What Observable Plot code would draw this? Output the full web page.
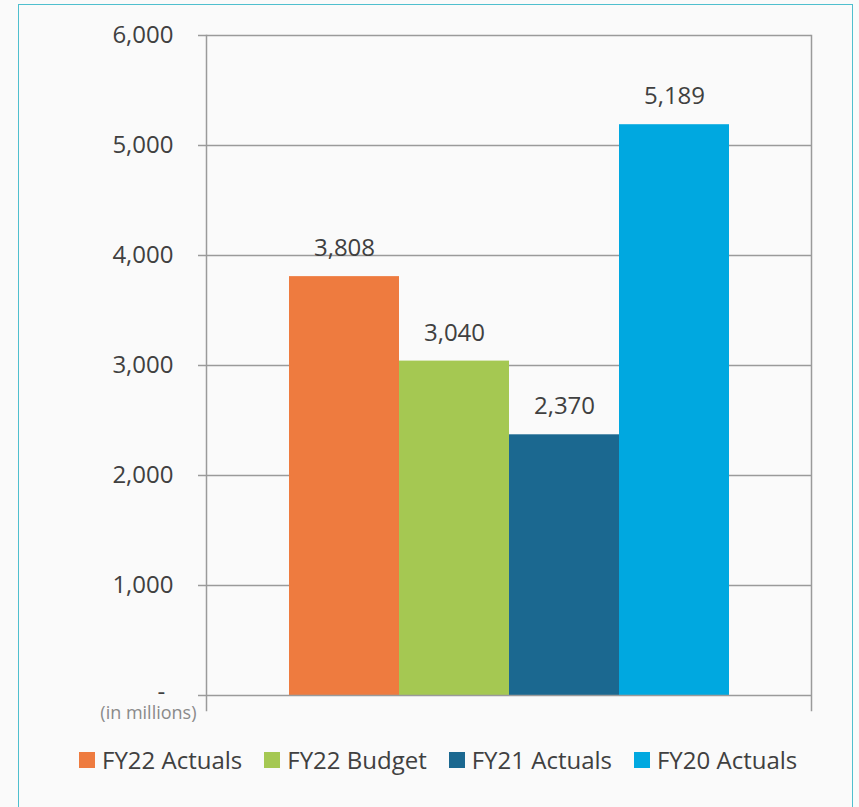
<!DOCTYPE html>
<html>
<head>
<meta charset="utf-8">
<script src="https://cdn.jsdelivr.net/npm/d3@7"></script>
<script src="https://cdn.jsdelivr.net/npm/@observablehq/plot@0.6"></script>
<style>
  html, body { margin: 0; padding: 0; background: #fafafa; width: 859px; height: 807px; overflow: hidden; }
  #border { position: absolute; left: 18px; top: 4px; width: 835px; height: 820px; border: 1.5px solid #4fbfce; box-sizing: border-box; pointer-events: none; }
  #chart { position: absolute; left: 0; top: 0; }
  #legend { position: absolute; left: 79px; top: 743px; display: flex; align-items: center; gap: 22px;
            font-family: "Open Sans", sans-serif; font-size: 24px; color: #404040; white-space: nowrap; }
  .item { display: flex; align-items: center; gap: 7px; }
  .sw { width: 16px; height: 16px; display: inline-block; }
</style>
</head>
<body>
<div id="chart"></div>
<div id="legend"></div>
<div id="border"></div>
<script>
const series = ["FY22 Actuals", "FY22 Budget", "FY21 Actuals", "FY20 Actuals"];
const values = [3808, 3040, 2370, 5189];
const colors = ["#ee7b3f", "#a5c852", "#1b6890", "#00a8e0"];
const yTicks = [1000, 2000, 3000, 4000, 5000, 6000];
const yDomain = [0, 6000];
const unitNote = "(in millions)";
const zeroLabel = "-";

const data = series.map((s, i) => ({name: s, value: values[i]}));
const fmt = d3.format(",");

const chart = Plot.plot({
  width: 859,
  height: 720,
  marginLeft: 206,
  marginRight: 48,
  marginTop: 35,
  marginBottom: 25,
  style: {background: "transparent", fontFamily: "Open Sans, sans-serif", fontSize: "24px", color: "#404040", overflow: "visible"},
  x: {domain: series, paddingInner: 0, paddingOuter: 0.74, axis: null},
  y: {domain: yDomain, axis: null},
  color: {domain: series, range: colors},
  marks: [
    Plot.gridY(yTicks, {stroke: "#9a9a9a", strokeOpacity: 1, strokeWidth: 1.5}),
    Plot.barY(data, {x: "name", y: "value", fill: "name"}),
    Plot.ruleY([0], {stroke: "#9a9a9a", strokeWidth: 1.5}),
    Plot.frame({anchor: "left", insetBottom: -15, stroke: "#9a9a9a", strokeWidth: 1.5}),
    Plot.frame({anchor: "right", insetBottom: -15, stroke: "#9a9a9a", strokeWidth: 1.5}),
    Plot.axisY([0, ...yTicks], {tickSize: 8, tickPadding: 25, stroke: "#9a9a9a", strokeWidth: 1.5, fill: "#404040",
      fontSize: 24, label: null, tickFormat: d => d === 0 ? "" : fmt(d)}),
    Plot.text([0], {y: d => d, frameAnchor: "left", dx: -49, dy: -3, text: () => zeroLabel, fontSize: 24, fill: "#404040"}),
    Plot.text([0], {y: d => d, frameAnchor: "left", dx: -10, dy: 18, textAnchor: "end", text: () => unitNote, fontSize: 18, fill: "#8a8a8a"}),
    Plot.text(data, {x: "name", y: "value", text: d => fmt(d.value), dy: -28, fontSize: 24, fill: "#404040"})
  ]
});
document.getElementById("chart").appendChild(chart);

const legend = document.getElementById("legend");
series.forEach((s, i) => {
  const item = document.createElement("span");
  item.className = "item";
  const sw = document.createElement("span");
  sw.className = "sw";
  sw.style.background = colors[i];
  const t = document.createElement("span");
  t.textContent = s;
  item.appendChild(sw);
  item.appendChild(t);
  legend.appendChild(item);
});
</script>
</body>
</html>
